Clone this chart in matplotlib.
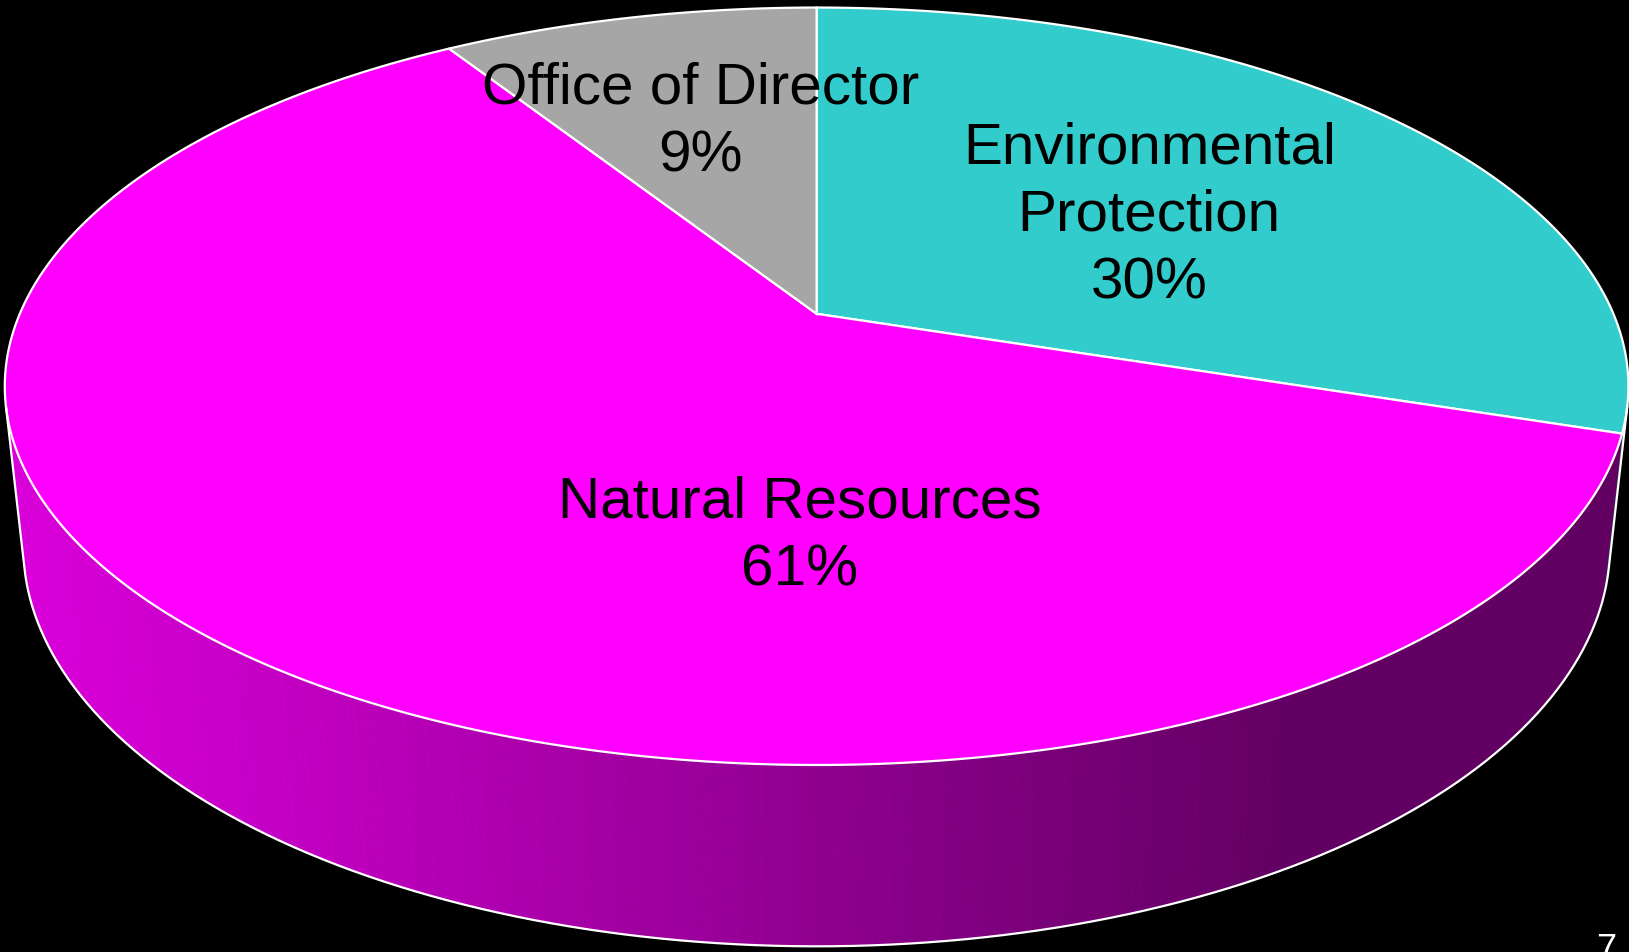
import numpy as np
import matplotlib.pyplot as plt
from matplotlib.patches import Polygon

labels = ['Environmental\nProtection', 'Natural Resources', 'Office of Director']
shares = [30, 61, 9]
colors = ['#33CCCC', '#FF00FF', '#A6A6A6']
start_angle = 90.0  # first slice starts at 12 o'clock, goes clockwise

# where each label sits on the top face: radius fraction and angle in degrees
label_radius = [0.525, 0.545, 0.607]
label_angle = [33.0, -92.0, 105.5]

# perspective camera
tilt = np.radians(27.25)
dist = 4.646
wall_h = 0.227
focal = 3702.0
cx, cy = 816.6, 314.8


def project(X, Y, Z=0.0):
    d = dist + Y * np.cos(tilt) - Z * np.sin(tilt)
    sx = cx + focal * X / d
    sy = cy - focal * (Y * np.sin(tilt) + Z * np.cos(tilt)) / d
    return sx, sy


def wall_shade(x):
    # light from the left, fading to dark on the right
    t = np.clip((x - 30) / 1250.0, 0, 1)
    return 0.86 - 0.47 * t


fig = plt.figure(figsize=(16.29, 9.53), dpi=100, facecolor='black')
ax = fig.add_axes([0, 0, 1, 1])
ax.set_facecolor('black')
ax.set_xlim(0, 1629)
ax.set_ylim(953, 0)
ax.axis('off')

# slice angle ranges (degrees, clockwise)
bounds = []
a = start_angle
for s in shares:
    bounds.append((a, a - s * 3.6))
    a -= s * 3.6

# visible part of the side wall
half = np.degrees(np.arccos(1.0 / (dist * np.cos(tilt))))
vis_lo, vis_hi = -90 - half, -90 + half

for (a0, a1), col in zip(bounds, colors):
    for shift in (0, 360, -360):
        lo = max(a1 + shift, vis_lo)
        hi = min(a0 + shift, vis_hi)
        if hi <= lo:
            continue
        angs = np.radians(np.linspace(lo, hi, max(int((hi - lo) * 2), 2)))
        base = np.array(plt.matplotlib.colors.to_rgb(col))
        for t0, t1 in zip(angs[:-1], angs[1:]):
            p = [project(np.cos(t0), np.sin(t0)), project(np.cos(t1), np.sin(t1)),
                 project(np.cos(t1), np.sin(t1), -wall_h), project(np.cos(t0), np.sin(t0), -wall_h)]
            xm = np.mean([q[0] for q in p])
            c = base * wall_shade(xm)
            ax.add_patch(Polygon(p, closed=True, facecolor=c, edgecolor=c, lw=0.6))

# outline of the whole wall
tt = np.radians(np.linspace(vis_lo, vis_hi, 400))
bot = [project(np.cos(t), np.sin(t), -wall_h) for t in tt]
outline = [project(np.cos(tt[0]), np.sin(tt[0]))] + bot + [project(np.cos(tt[-1]), np.sin(tt[-1]))]
ax.plot([q[0] for q in outline], [q[1] for q in outline], color='white', lw=1.6)

# top faces
for (a0, a1), col in zip(bounds, colors):
    tt = np.radians(np.linspace(a0, a1, 300))
    pts = [project(0, 0)] + [project(np.cos(t), np.sin(t)) for t in tt]
    ax.add_patch(Polygon(pts, closed=True, facecolor=col, edgecolor='white', lw=1.6))

# labels
for i, lab in enumerate(labels):
    ang = np.radians(label_angle[i])
    r = label_radius[i]
    x, y = project(r * np.cos(ang), r * np.sin(ang))
    ax.text(x, y, '%s\n%d%%' % (lab, shares[i]), ha='center', va='center',
            fontsize=42, family='Liberation Sans', color='black', linespacing=1.33)

ax.text(1606, 933, '7', ha='center', va='top', fontsize=26, family='Liberation Sans', color='white')

fig.savefig('out.png', dpi=100, facecolor='black')
